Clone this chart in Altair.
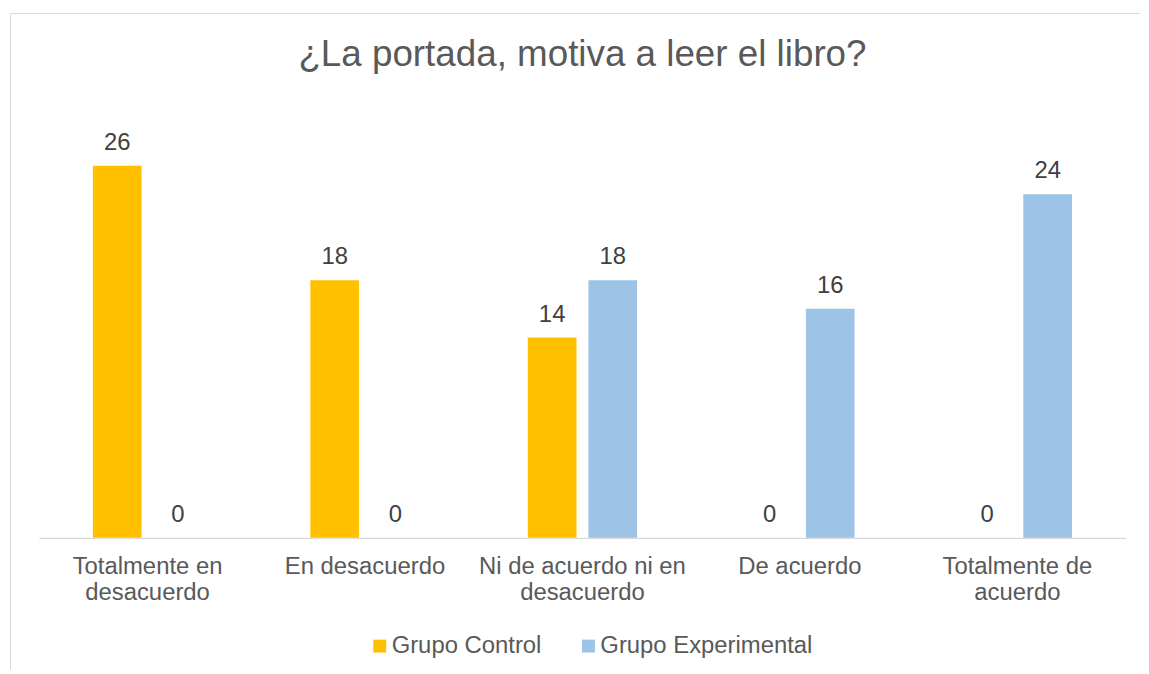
import altair as alt
import pandas as pd

categories = ["Totalmente en desacuerdo", "En desacuerdo", "Ni de acuerdo ni en desacuerdo", "De acuerdo", "Totalmente de acuerdo"]
label_lines = {
    "Totalmente en desacuerdo": ["Totalmente en", "desacuerdo"],
    "En desacuerdo": ["En desacuerdo"],
    "Ni de acuerdo ni en desacuerdo": ["Ni de acuerdo ni en", "desacuerdo"],
    "De acuerdo": ["De acuerdo"],
    "Totalmente de acuerdo": ["Totalmente de", "acuerdo"],
}
groups = ["Grupo Control", "Grupo Experimental"]
control = [26, 18, 14, 0, 0]
experimental = [0, 0, 18, 16, 24]
colors = ["#FFC000", "#9DC3E6"]

rows = []
for c, a, b in zip(categories, control, experimental):
    rows.append({"categoria": c, "grupo": groups[0], "valor": a})
    rows.append({"categoria": c, "grupo": groups[1], "valor": b})
df = pd.DataFrame(rows)

FONT = "Liberation Sans"
W, H = 1094, 432

label_expr = "{" + ", ".join(
    "'%s': [%s]" % (k, ", ".join("'%s'" % s for s in v)) for k, v in label_lines.items()
) + "}[datum.value]"

x = alt.X("categoria:N", sort=categories, title=None,
          scale=alt.Scale(paddingInner=0, paddingOuter=0),
          axis=alt.Axis(labelAngle=0, labelExpr=label_expr, labelFont=FONT, labelFontSize=24,
                        labelColor="#595959", labelPadding=17, labelLineHeight=26,
                        ticks=False, domainColor="#D9D9D9", domainWidth=1.3, labelLimit=400))
xo = alt.XOffset("grupo:N", sort=groups,
                 scale=alt.Scale(paddingInner=0.197, paddingOuter=0.892))
y = alt.Y("valor:Q", scale=alt.Scale(domain=[0, 30]), axis=None)

bars = alt.Chart(df).mark_bar().encode(
    x=x, xOffset=xo, y=y,
    color=alt.Color("grupo:N", sort=groups,
                    scale=alt.Scale(domain=groups, range=colors),
                    legend=alt.Legend(title=None, orient="none", direction="horizontal",
                                      legendX=331, legendY=529, symbolType="square",
                                      symbolSize=169, symbolStrokeWidth=0, labelFont=FONT,
                                      labelFontSize=24, labelColor="#595959", labelOffset=0,
                                      labelLimit=400, columnPadding=35, padding=0)),
)

text = alt.Chart(df).mark_text(dy=-16, baseline="alphabetic", font=FONT, fontSize=24,
                               color="#404040").encode(
    x=x, xOffset=xo, y=y, text="valor:Q"
)

frame_df = pd.DataFrame({"k": [0]})
top_line = alt.Chart(frame_df).mark_rule(color="#D9D9D9", strokeWidth=1).encode(
    x=alt.value(-28.5), x2=alt.value(1108), y=alt.value(-95.5)
)
left_line = alt.Chart(frame_df).mark_rule(color="#D9D9D9", strokeWidth=1).encode(
    x=alt.value(-28.5), y=alt.value(-95.5), y2=alt.value(565)
)

chart = alt.layer(top_line, left_line, bars, text).properties(
    width=W, height=H,
    padding={"left": 2, "top": 3, "right": 0, "bottom": 0},
    title=alt.TitleParams("¿La portada, motiva a leer el libro?", font=FONT, fontSize=37,
                          fontWeight="normal", color="#595959", anchor="middle",
                          frame="group", offset=-90, baseline="alphabetic"),
).configure_view(stroke=None)

chart.save("out.html", embed_options={"renderer": "svg", "actions": False})
